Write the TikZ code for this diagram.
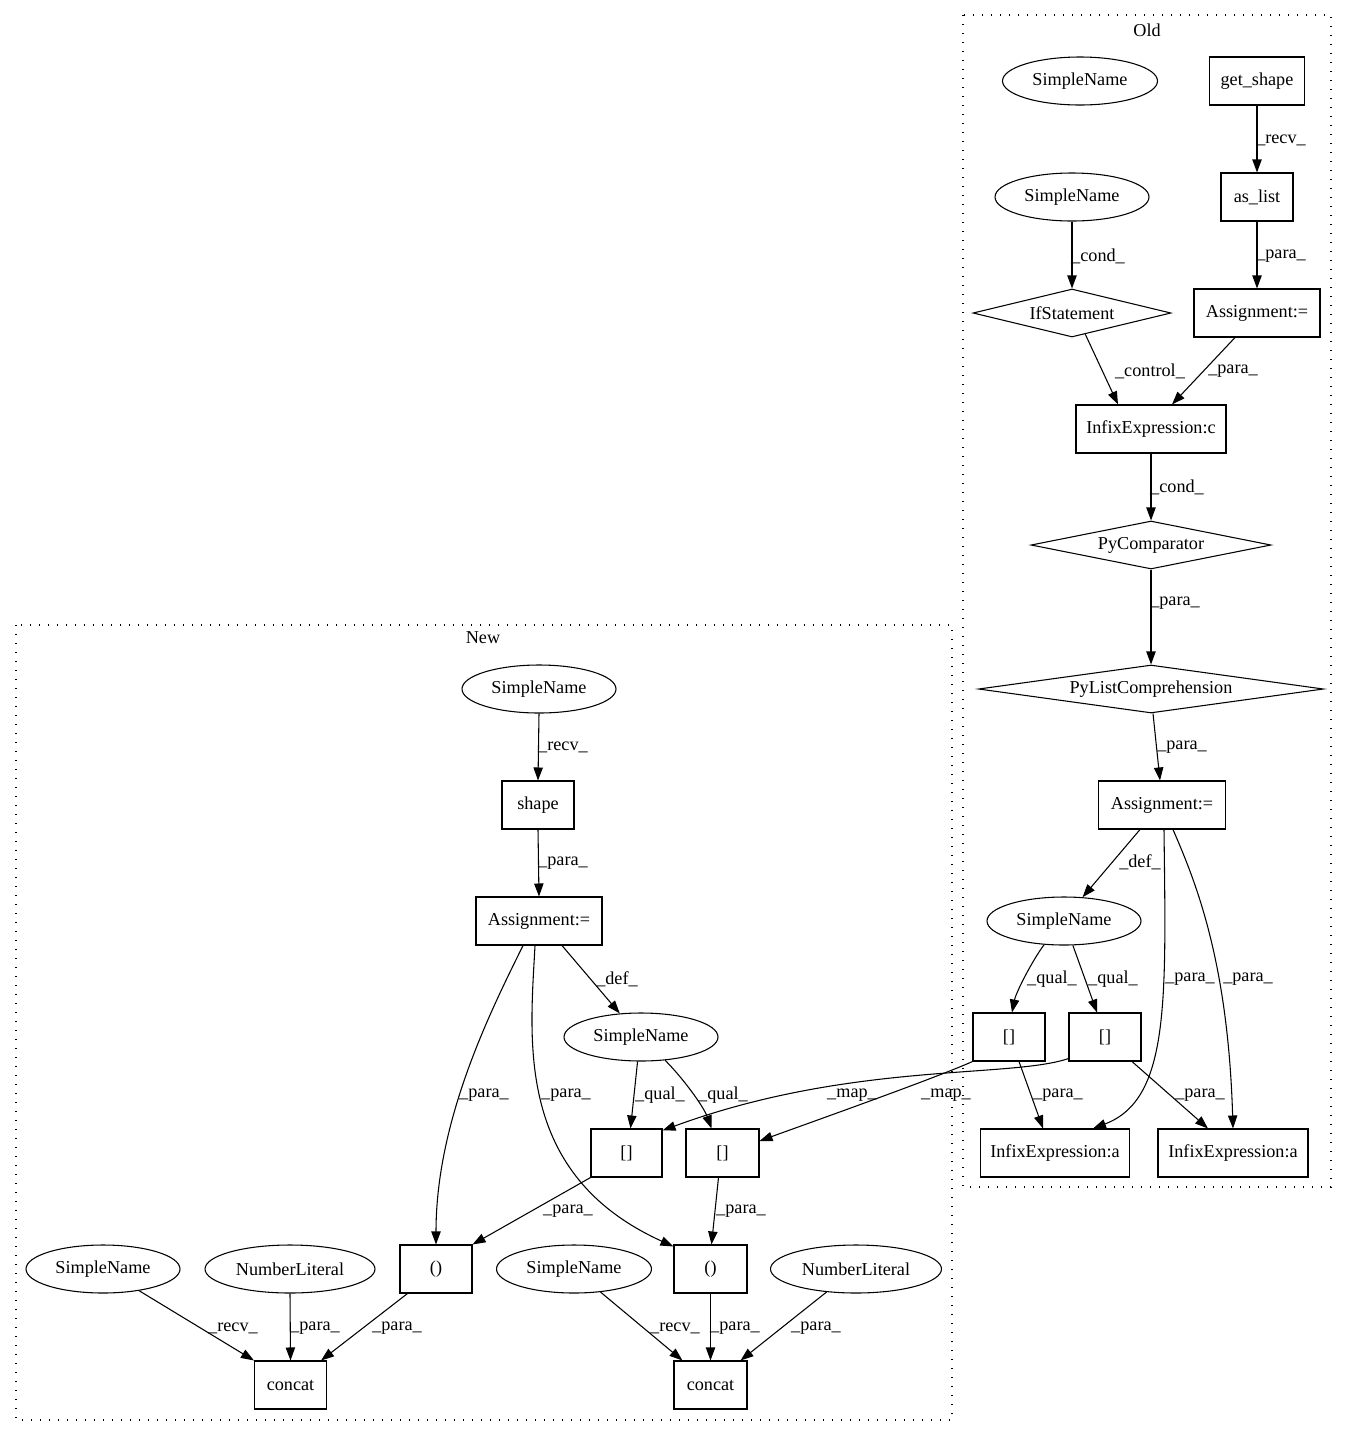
\documentclass[tikz,border=0pt]{standalone}
\usepackage{fontspec}
\setmainfont{Liberation Serif}
\usetikzlibrary{shapes.geometric,arrows.meta,calc}
\tikzset{
  base/.style={draw, line width=0.8pt, minimum height=36pt, inner sep=0pt, font=\fontsize{13.65}{16}\selectfont},
  wd/.style={minimum width=#1*0.75pt},
  box/.style={base, rectangle},
  ell/.style={base, ellipse},
  dia/.style={base, diamond, aspect=7},
  lab/.style={inner sep=0pt, font=\fontsize{13.65}{16}\selectfont},
  arr/.style={line width=0.8pt, -{Triangle[length=9.75pt,width=7pt]}},
  clus/.style={line width=0.8pt, dash pattern=on 1pt off 5.75pt},
}
\begin{document}
\begin{tikzpicture}[x=0.75pt,y=-0.75pt]
\useasboundingbox (0,0) rectangle (1347,1436);
% clusters
\draw[clus] (963,15) rectangle (1331,1187);
\node[lab] (oldlab) at (1147,30) {Old};
\draw[clus] (16,625) rectangle (952,1420);
\node[lab] (newlab) at (483,638) {New};

% Old nodes
\node[ell, wd=155] (osn1) at (1080,81) {SimpleName};
\node[box, wd=95] (gs) at (1257,81) {get\_shape};
\node[box, wd=72] (al) at (1257,197) {as\_list};
\node[ell, wd=154] (osn2) at (1072,197) {SimpleName};
\node[dia, wd=198] (ifs) at (1072,313) {IfStatement};
\node[box, wd=126] (oa1) at (1257,313) {Assignment:=};
\node[box, wd=150] (ic) at (1151,429) {InfixExpression:c};
\node[dia, wd=240] (pc) at (1151,545) {PyComparator};
\node[dia, wd=345] (plc) at (1151,689) {PyListComprehension};
\node[box, wd=127] (oa2) at (1162,805) {Assignment:=};
\node[ell, wd=154] (osn3) at (1064,921) {SimpleName};
\node[box, wd=72] (ob1) at (1009,1037) {[]};
\node[box, wd=72] (ob2) at (1105,1037) {[]};
\node[box, wd=149] (oia1) at (1055,1153) {InfixExpression:a};
\node[box, wd=150] (oia2) at (1233,1153) {InfixExpression:a};

% New nodes
\node[ell, wd=154] (nsn1) at (539,689) {SimpleName};
\node[box, wd=72] (shape) at (538,805) {shape};
\node[box, wd=126] (nasg) at (539,921) {Assignment:=};
\node[ell, wd=154] (nsn2) at (641,1037) {SimpleName};
\node[box, wd=71] (nb1) at (626.5,1153) {[]};
\node[box, wd=73] (nb2) at (722.5,1153) {[]};
\node[box, wd=72] (np1) at (436,1269) {()};
\node[box, wd=73] (np2) at (710.5,1269) {()};
\node[ell, wd=154] (nsn3) at (103,1269) {SimpleName};
\node[ell, wd=170] (nnl1) at (290,1269) {NumberLiteral};
\node[ell, wd=155] (nsn4) at (574,1269) {SimpleName};
\node[ell, wd=171] (nnl2) at (856,1269) {NumberLiteral};
\node[box, wd=72] (nc1) at (290.5,1385) {concat};
\node[box, wd=73] (nc2) at (710.5,1385) {concat};

% Old edges
\draw[arr] (gs.south) -- (al.north);
\draw[arr] (al.south) -- (oa1.north);
\draw[arr] (osn2.south) -- (ifs.north);
\draw[arr] (ifs.-58) -- ($(ic.north)+(-33,0)$);
\draw[arr] ($(oa1.south)+(-22,0)$) -- ($(ic.north)+(21,0)$);
\draw[arr] (ic.south) -- (pc.north);
\draw[arr] (pc.south) -- (plc.north);
\draw[arr] ($(plc.south)+(2,0)$) -- ($(oa2.north)+(-2,0)$);
\draw[arr] ($(oa2.south)+(-22,0)$) -- (osn3.52);
\draw[arr] ($(oa2.south)+(2,0)$) .. controls +(2,171) and +(77,-29) .. ($(oia1.north)+(38,0)$);
\draw[arr] ($(oa2.south)+(11,0)$) .. controls +(22,51) and +(-5,-169) .. (oia2.north);
\draw[arr] (osn3.-130) .. controls +(-12,16) and +(4,-20) .. ($(ob1.north)+(3,0)$);
\draw[arr] (osn3.-70) -- ($(ob2.north)+(-8,0)$);
\draw[arr] ($(ob1.south)+(10,0)$) -- ($(oia1.north)+(-12,0)$);
\draw[arr] ($(ob2.south)+(27,0)$) -- ($(oia2.north)+(-25,0)$);

% cross edges
\draw[arr] ($(ob2.south west)+(0,-3)$) .. controls +(-59,20) and +(188,-69) .. ($(nb1.north east)+(0,2)$);
\draw[arr] (ob1.south west) .. controls +(-38,17) and +(41,-15) .. ($(nb2.east)+(0,-12)$);

% New edges
\draw[arr] (nsn1.south) -- (shape.north);
\draw[arr] (shape.south) -- (nasg.north);
\draw[arr] ($(nasg.south)+(23,0)$) -- (nsn2.132);
\draw[arr] ($(nasg.south)+(-16,0)$) .. controls +(-32,65) and +(0,-125) .. (np1.north);
\draw[arr] ($(nasg.south)+(-4,0)$) .. controls +(-5,95) and +(-159,-72) .. ($(np2.north west)+(0,2)$);
\draw[arr] (nsn2.-98) -- ($(nb1.north)+(4,0)$);
\draw[arr] (nsn2.-44) .. controls +(18,18) and +(-8,-22) .. ($(nb2.north)+(-11,0)$);
\draw[arr] (nb1.south west) -- (np1.north east);
\draw[arr] ($(nb2.south)+(-4,0)$) -- ($(np2.north)+(1,0)$);
\draw[arr] (nsn3.-31) -- (nc1.north west);
\draw[arr] (nnl1.south) -- (nc1.north);
\draw[arr] ($(np1.south west)+(8,0)$) -- ($(nc1.north east)+(-6,0)$);
\draw[arr] (nsn4.-41) -- ($(nc2.north west)+(9,0)$);
\draw[arr] (np2.south) -- (nc2.north);
\draw[arr] (nnl2.-142) -- ($(nc2.north east)+(-7,0)$);

% labels
\node[lab] (l1) at (1281,140) {\_recv\_};
\node[lab] (l2) at (1281,256) {\_para\_};
\node[lab] (l3) at (1098,256) {\_cond\_};
\node[lab] (l4) at (1150,371) {\_control\_};
\node[lab] (l5) at (1233,371) {\_para\_};
\node[lab] (l6) at (1177,487) {\_cond\_};
\node[lab] (l7) at (1175,603) {\_para\_};
\node[lab] (l8) at (1182,747) {\_para\_};
\node[lab] (l9) at (1140,862) {\_def\_};
\node[lab] (l10) at (1052,979) {\_qual\_};
\node[lab] (l11) at (1113,979) {\_qual\_};
\node[lab] (l12) at (1190,979) {\_para\_};
\node[lab] (l13) at (1248,979) {\_para\_};
\node[lab] (l14) at (1058,1095) {\_para\_};
\node[lab] (l15) at (1200,1095) {\_para\_};
\node[lab] (l16) at (852,1095) {\_map\_};
\node[lab] (l17) at (946,1095) {\_map\_};
\node[lab] (l18) at (563,747) {\_recv\_};
\node[lab] (l19) at (563,863) {\_para\_};
\node[lab] (l20) at (617,979) {\_def\_};
\node[lab] (l21) at (484,1095) {\_para\_};
\node[lab] (l22) at (566,1095) {\_para\_};
\node[lab] (l23) at (660,1095) {\_qual\_};
\node[lab] (l24) at (723,1095) {\_qual\_};
\node[lab] (l25) at (568,1211) {\_para\_};
\node[lab] (l26) at (741,1211) {\_para\_};
\node[lab] (l27) at (233,1328) {\_recv\_};
\node[lab] (l28) at (315,1328) {\_para\_};
\node[lab] (l29) at (397,1328) {\_para\_};
\node[lab] (l30) at (675,1328) {\_recv\_};
\node[lab] (l31) at (735,1328) {\_para\_};
\node[lab] (l32) at (816,1328) {\_para\_};
\end{tikzpicture}
\end{document}
